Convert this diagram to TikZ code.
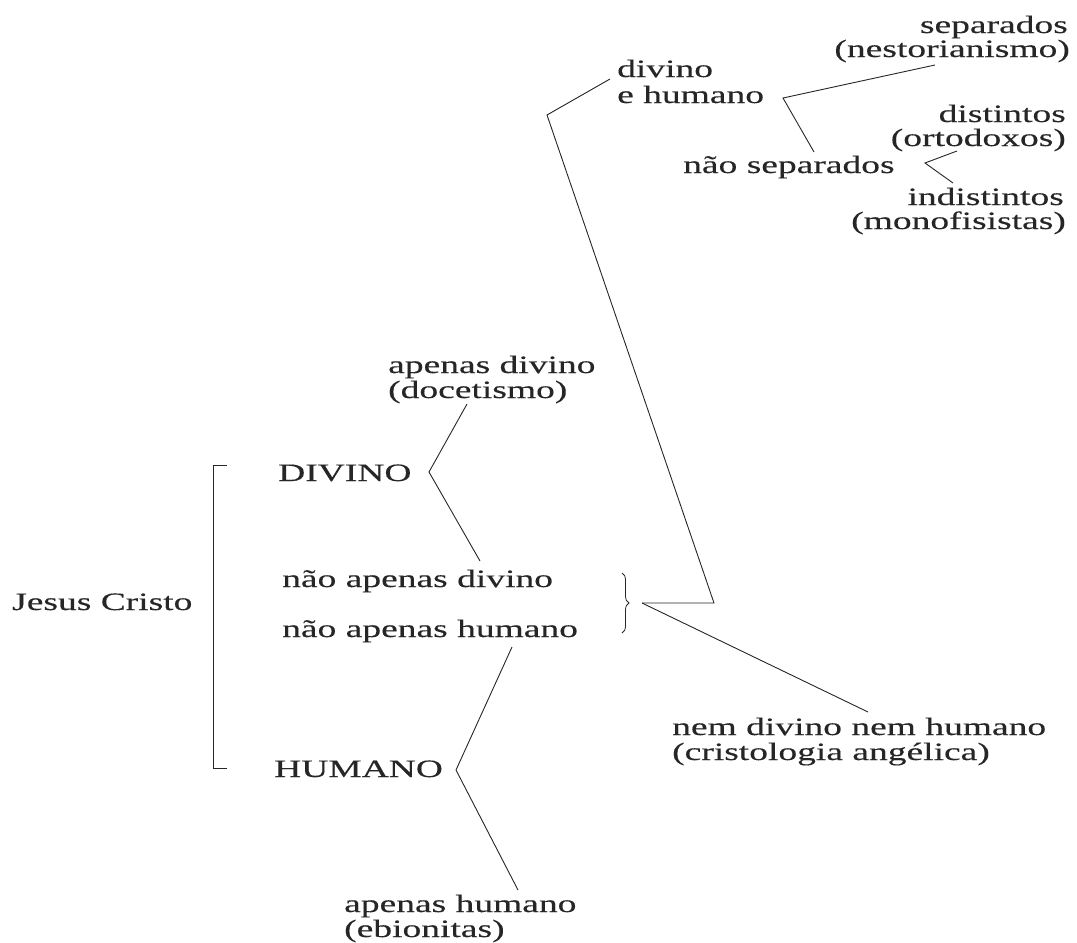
\documentclass[tikz,border=0pt]{standalone}
\usepackage{fontspec}
\setmainfont{Liberation Serif}[FakeStretch=1.5, FakeBold=0.3]
\usetikzlibrary{decorations.pathreplacing}
\definecolor{ink}{HTML}{262626}
\tikzset{
  lbl/.style={inner sep=0pt, text=ink, font=\fontsize{25}{25}\selectfont},
  conn/.style={draw=ink, line width=0.9pt, line join=miter},
}
\begin{document}
\begin{tikzpicture}[x=1pt,y=-1pt]
\useasboundingbox (0,0) rectangle (1077,943);
% text nodes
\node[lbl, anchor=base west] (jc) at (12,610) {Jesus Cristo};
\node[lbl, anchor=base west] (div) at (278,481) {DIVINO};
\node[lbl, anchor=base west] (hum) at (274,777) {HUMANO};
\node[lbl, anchor=base west] (nad) at (282,587) {não apenas divino};
\node[lbl, anchor=base west] (nah) at (282,637) {não apenas humano};
\node[lbl, anchor=base west] (ad1) at (388,373) {apenas divino};
\node[lbl, anchor=base west] (ad2) at (388,398) {(docetismo)};
\node[lbl, anchor=base west] (ah1) at (344,912) {apenas humano};
\node[lbl, anchor=base west] (ah2) at (344,937) {(ebionitas)};
\node[lbl, anchor=base west] (nn1) at (672,735) {nem divino nem humano};
\node[lbl, anchor=base west] (nn2) at (672,760) {(cristologia angélica)};
\node[lbl, anchor=base west] (deh1) at (617,77) {divino};
\node[lbl, anchor=base west] (deh2) at (617,103) {e humano};
\node[lbl, anchor=base east] (sep1) at (1068,33) {separados};
\node[lbl, anchor=base east] (sep2) at (1070,57) {(nestorianismo)};
\node[lbl, anchor=base east] (dis1) at (1066,122) {distintos};
\node[lbl, anchor=base east] (dis2) at (1066,146) {(ortodoxos)};
\node[lbl, anchor=base west] (nsep) at (683,173) {não separados};
\node[lbl, anchor=base east] (ind1) at (1064,205) {indistintos};
\node[lbl, anchor=base east] (ind2) at (1066,229) {(monofisistas)};
% connector points
\coordinate (brT) at (227,465);
\coordinate (brTL) at (213,465);
\coordinate (brBL) at (213,768);
\coordinate (brB) at (227,768);
\coordinate (dUp) at (467,404);
\coordinate (dV) at (429,472);
\coordinate (dDn) at (480,561);
\coordinate (hUp) at (512,647);
\coordinate (hV) at (456,770);
\coordinate (hDn) at (518,890);
\coordinate (cbT) at (622,573);
\coordinate (cbB) at (622,633);
\coordinate (cbTip) at (642,603);
\coordinate (cbCorner) at (714,603);
\coordinate (dehV) at (547,115);
\coordinate (dehEnd) at (610,79);
\coordinate (nnEnd) at (868,712);
\coordinate (sepEnd) at (935,65);
\coordinate (sepV) at (783,98);
\coordinate (nsEnd) at (814,152);
\coordinate (disEnd) at (957,151);
\coordinate (nsV) at (925,163);
\coordinate (indEnd) at (953,183);
% connectors
\draw[conn] (brT) -- (brTL) -- (brBL) -- (brB);
\draw[conn] (dUp) -- (dV) -- (dDn);
\draw[conn] (hUp) -- (hV) -- (hDn);
\draw[draw=ink, line width=0.8pt, decorate, decoration={brace, amplitude=7pt}] (cbT) -- (cbB);
\draw[conn] (cbTip) -- (cbCorner) -- (dehV) -- (dehEnd);
\draw[conn] (cbTip) -- (nnEnd);
\draw[conn] (sepEnd) -- (sepV) -- (nsEnd);
\draw[conn] (disEnd) -- (nsV) -- (indEnd);
\end{tikzpicture}
\end{document}
